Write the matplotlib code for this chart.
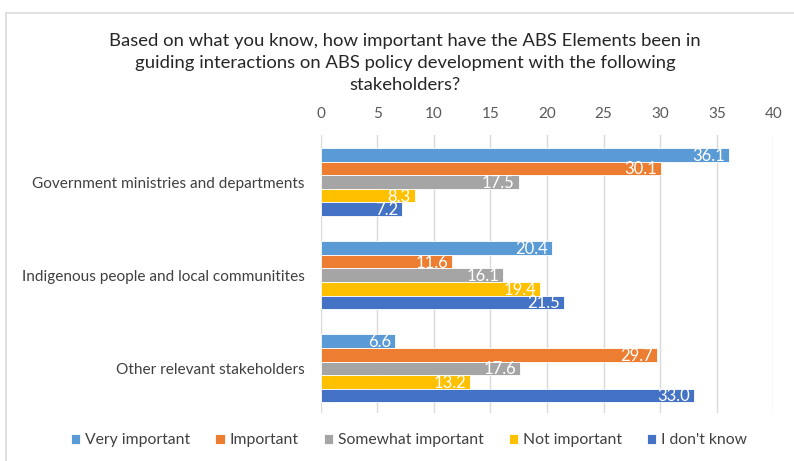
import matplotlib.pyplot as plt
from matplotlib.lines import Line2D
import numpy as np

plt.rcParams['font.family'] = ['Lato', 'DejaVu Sans']

categories = [
    "Government ministries and departments",
    "Indigenous people and local communitites",
    "Other relevant stakeholders",
]
series_names = ["Very important", "Important", "Somewhat important",
                "Not important", "I don't know"]
very_important = [36.1, 20.4, 6.6]
important = [30.1, 11.6, 29.7]
somewhat_important = [17.5, 16.1, 17.6]
not_important = [8.3, 19.4, 13.2]
dont_know = [7.2, 21.5, 33.0]

series_values = [very_important, important, somewhat_important,
                 not_important, dont_know]
colors = ["#5B9BD5", "#ED7D31", "#A5A5A5", "#FFC000", "#4472C4"]

fig = plt.figure(figsize=(7.94, 4.61), dpi=100)
ax = fig.add_axes([0.404, 0.104, 0.570, 0.603])

# chart frame (top and left edges)
fig.add_artist(Line2D([0.0075, 1.0], [0.972, 0.972], color="#D9D9D9", lw=1.2))
fig.add_artist(Line2D([0.0075, 0.0075], [0.0, 0.972], color="#D9D9D9", lw=1.2))

y = np.arange(len(categories))
bar_h = 0.146
offsets = (np.arange(len(series_names)) - 2) * bar_h

for vals, name, col, off in zip(series_values, series_names, colors, offsets):
    bars = ax.barh(y + off, vals, height=bar_h, color=col, label=name,
                   edgecolor="white", linewidth=0.6, zorder=3)
    for b, v in zip(bars, vals):
        ax.text(b.get_width() - 0.35, b.get_y() + b.get_height() / 2 + 0.01,
                f"{v:.1f}", ha="right", va="center", color="white",
                fontsize=12, zorder=4)

ax.set_xlim(0, 40)
ax.set_xticks(range(0, 41, 5))
ax.set_ylim(2.48, -0.505)
ax.set_yticks(y)
ax.set_yticklabels(categories, fontsize=11.1, color="#404040")
ax.xaxis.tick_top()
ax.tick_params(axis="x", length=0, pad=10, labelsize=11, labelcolor="#595959")
ax.tick_params(axis="y", length=0, pad=11.5)
ax.grid(axis="x", color="#D9D9D9", lw=1, zorder=0)
for s in ax.spines.values():
    s.set_visible(False)

fig.text(0.51, 0.928,
         "Based on what you know, how important have the ABS Elements been in\n"
         "guiding interactions on ABS policy development with the following\n"
         "stakeholders?",
         ha="center", va="top", fontsize=13.3, color="#262626", linespacing=1.45)

handles, labels = ax.get_legend_handles_labels()
fig.legend(handles, labels, loc="center", bbox_to_anchor=(0.515, 0.045), ncol=5,
           frameon=False, fontsize=11.3, handlelength=0.6, handleheight=0.6,
           handletextpad=0.3, columnspacing=1.6, labelcolor="#404040")

fig.savefig("out.png", dpi=100)
